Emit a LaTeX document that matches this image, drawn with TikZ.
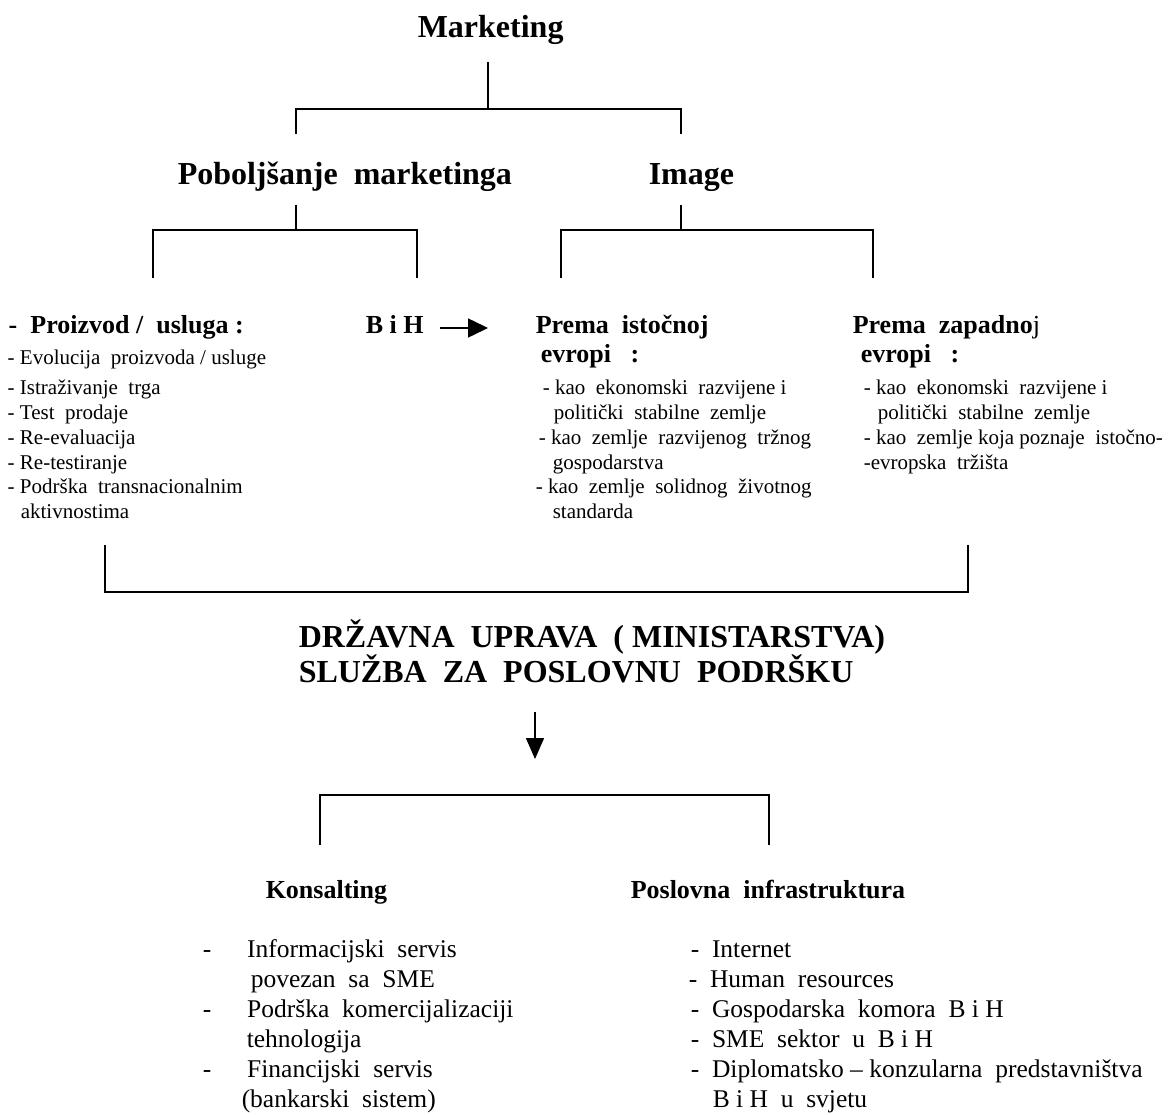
\documentclass[tikz,border=0pt]{standalone}
\usepackage{fontspec}
\setmainfont{Liberation Serif}
\usetikzlibrary{arrows.meta}

\begin{document}
\begin{tikzpicture}[x=1pt, y=-1pt, line width=1.5pt,
  every node/.style={anchor=base west, inner sep=0pt},
  naslov/.style={font=\fontsize{32}{36}\selectfont\bfseries},
  podnaslov/.style={font=\fontsize{26}{30}\selectfont\bfseries},
  stavka/.style={font=\fontsize{21}{24}\selectfont},
  stavkab/.style={font=\fontsize{25.5}{30}\selectfont},
  strelica/.style={-{Triangle[length=20pt,width=19pt]}}]
\useasboundingbox (0,0) rectangle (1169,1115);
% naslov i prvi nivo
\node[naslov] (mkt) at (417,38) {Marketing};
\node[naslov] (pob) at (177,185) {Poboljšanje~ marketinga};
\node[naslov] (img) at (648,185) {Image};
\coordinate (a0) at (488,62);
\coordinate (a1) at (488,109);
\coordinate (aL) at (296,134);
\coordinate (aR) at (681,134);
\draw (a0) -- (a1);
\draw (aL) |- (a1) -| (aR);
% grananje ispod
\coordinate (b0) at (296,205);
\coordinate (b1) at (296,230);
\coordinate (bL) at (153,278);
\coordinate (bR) at (417,278);
\draw (b0) -- (b1);
\draw (bL) |- (b1) -| (bR);
\coordinate (c0) at (681,205);
\coordinate (c1) at (681,230);
\coordinate (cL) at (561,278);
\coordinate (cR) at (873,278);
\draw (c0) -- (c1);
\draw (cL) |- (c1) -| (cR);
% proizvod / usluga
\node[podnaslov] (pro) at (8,333) {-~ Proizvod /~ usluga :};
\node[stavka] (l1) at (7,364) {- Evolucija~ proizvoda / usluge};
\node[stavka] (l2) at (7,394) {- Istraživanje~ trga};
\node[stavka] (l3) at (7,419) {- Test~ prodaje};
\node[stavka] (l4) at (7,444) {- Re-evaluacija};
\node[stavka] (l5) at (7,469) {- Re-testiranje};
\node[stavka] (l6) at (7,493) {- Podrška~ transnacionalnim};
\node[stavka] (l7) at (20,518) {aktivnostima};
% BiH i strelica
\node[podnaslov] (bih) at (365,333) {B i H};
\coordinate (s0) at (440,328);
\coordinate (s1) at (488,328);
\draw[strelica] (s0) -- (s1);
% istocna evropa
\node[podnaslov] (ist) at (535,333) {Prema~ istočnoj};
\node[podnaslov] (ist2) at (540,362) {evropi~~~:};
\node[stavka] (m1) at (542,394) {- kao~ ekonomski~ razvijene i};
\node[stavka] (m2) at (553,419) {politički~ stabilne~ zemlje};
\node[stavka] (m3) at (538,444) {- kao~ zemlje~ razvijenog~ tržnog};
\node[stavka] (m4) at (552,469) {gospodarstva};
\node[stavka] (m5) at (535,493) {- kao~ zemlje~ solidnog~ životnog};
\node[stavka] (m6) at (552,518) {standarda};
% zapadna evropa
\node[podnaslov] (zap) at (852,333) {Prema~ zapadno{\mdseries j}};
\node[podnaslov] (zap2) at (860,362) {evropi~~~:};
\node[stavka] (r1) at (863,394) {- kao~ ekonomski~ razvijene i};
\node[stavka] (r2) at (877,419) {politički~ stabilne~ zemlje};
\node[stavka] (r3) at (863,444) {- kao~ zemlje koja poznaje~ istočno-};
\node[stavka] (r4) at (863,469) {-evropska~ tržišta};
% velika zagrada
\coordinate (dL) at (105,545);
\coordinate (dR) at (968,545);
\draw (dL) -- ++(0,47) -| (dR);
% drzavna uprava
\node[naslov] (dr1) at (298,647) {DRŽAVNA~ UPRAVA~ (~MINISTARSTVA)};
\node[naslov] (dr2) at (298,682) {SLUŽBA~ ZA~ POSLOVNU~ PODRŠKU};
\coordinate (f0) at (535,712);
\coordinate (f1) at (535,759);
\draw[-{Triangle[length=21pt,width=18pt]}] (f0) -- (f1);
% donja zagrada
\coordinate (eL) at (320,845);
\coordinate (eR) at (769,845);
\draw (eL) -- ++(0,-50) -| (eR);
% konsalting
\node[podnaslov] (kon) at (265,898) {Konsalting};
\node[stavkab] (k1) at (202,957) {-\hspace{36pt}Informacijski~ servis};
\node[stavkab] (k2) at (250,987) {povezan~ sa~ SME};
\node[stavkab] (k3) at (202,1017) {-\hspace{36pt}Podrška~ komercijalizaciji};
\node[stavkab] (k4) at (246,1047) {tehnologija};
\node[stavkab] (k5) at (202,1077) {-\hspace{36pt}Financijski~ servis};
\node[stavkab] (k6) at (241,1107) {(bankarski~ sistem)};
% poslovna infrastruktura
\node[podnaslov] (pos) at (630,898) {Poslovna~ infrastruktura};
\node[stavkab] (p1) at (690,957) {-~ Internet};
\node[stavkab] (p2) at (688,987) {-~ Human~ resources};
\node[stavkab] (p3) at (690,1017) {-~ Gospodarska~ komora~ B i H};
\node[stavkab] (p4) at (690,1047) {-~ SME~ sektor~ u~ B i H};
\node[stavkab] (p5) at (690,1077) {-~ Diplomatsko – konzularna~ predstavništva};
\node[stavkab] (p6) at (712,1107) {B i H~ u~ svjetu};
\end{tikzpicture}
\end{document}
